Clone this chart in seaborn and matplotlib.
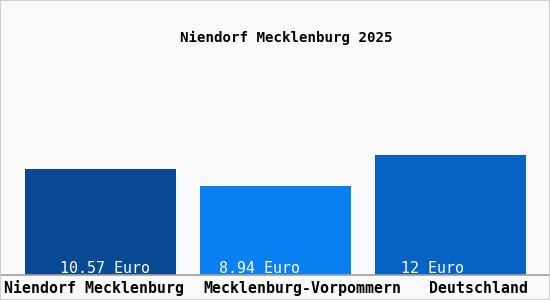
import matplotlib
matplotlib.use("Agg")
import matplotlib.pyplot as plt
import seaborn as sns
import pandas as pd

title = "Niendorf Mecklenburg 2025"
categories = ["Niendorf Mecklenburg", "Mecklenburg-Vorpommern", "Deutschland"]
values = [10.57, 8.94, 12.0]
value_labels = ["10.57 Euro", "8.94 Euro", "12 Euro"]
bar_colors = ["#084a94", "#0a80f2", "#0863c6"]
# horizontal text offsets (in category units) as seen in the reference
value_label_offsets = [-0.232, -0.323, -0.283]
tick_label_offsets = [-0.55, -0.41, -0.12]

sns.set_theme(style="white")
plt.rcParams["font.family"] = ["DejaVu Sans Mono", "DejaVu Sans"]

bg = "#f9f9f9"
fig = plt.figure(figsize=(5.5, 3.0), dpi=100, facecolor=bg)
ax = fig.add_axes([0.0, 25 / 300, 1.0, 255 / 300])
ax.set_facecolor(bg)

df = pd.DataFrame({"cat": categories, "val": values})
sns.barplot(data=df, x="cat", y="val", hue="cat", palette=bar_colors,
            width=151 / 175, legend=False, ax=ax, saturation=1,
            edgecolor="none", linewidth=0)

ax.set_xlim(-13 / 175 - 0.5, (550 - 13) / 175 - 0.5)
ax.set_ylim(0, 25.5)
ax.axhline(0, color="#a0a0a0", lw=1.2, clip_on=False)

for i, (lab, off) in enumerate(zip(value_labels, value_label_offsets)):
    ax.text(i + off, 0.2, lab, color="white", ha="left", va="baseline",
            fontsize=10.8)

for i, (lab, off) in enumerate(zip(categories, tick_label_offsets)):
    ax.text(i + off, -1.35, lab, color="black", ha="left", va="center",
            fontsize=10.7, fontweight="bold", clip_on=False)

ax.set_xticks([])
ax.set_yticks([])
ax.set_xlabel("")
ax.set_ylabel("")
for s in ax.spines.values():
    s.set_visible(False)

fig.text(0.5 * (180 + 393) / 550, 1 - 38 / 300, title, ha="center", va="center",
         fontsize=10.2, fontweight="bold", color="black")

fig.patches.append(plt.Rectangle((0, 0), 1, 1, transform=fig.transFigure,
                                 fill=False, edgecolor="#d0d0d0", lw=1.5))

fig.savefig("out.png", dpi=100, facecolor=bg)
